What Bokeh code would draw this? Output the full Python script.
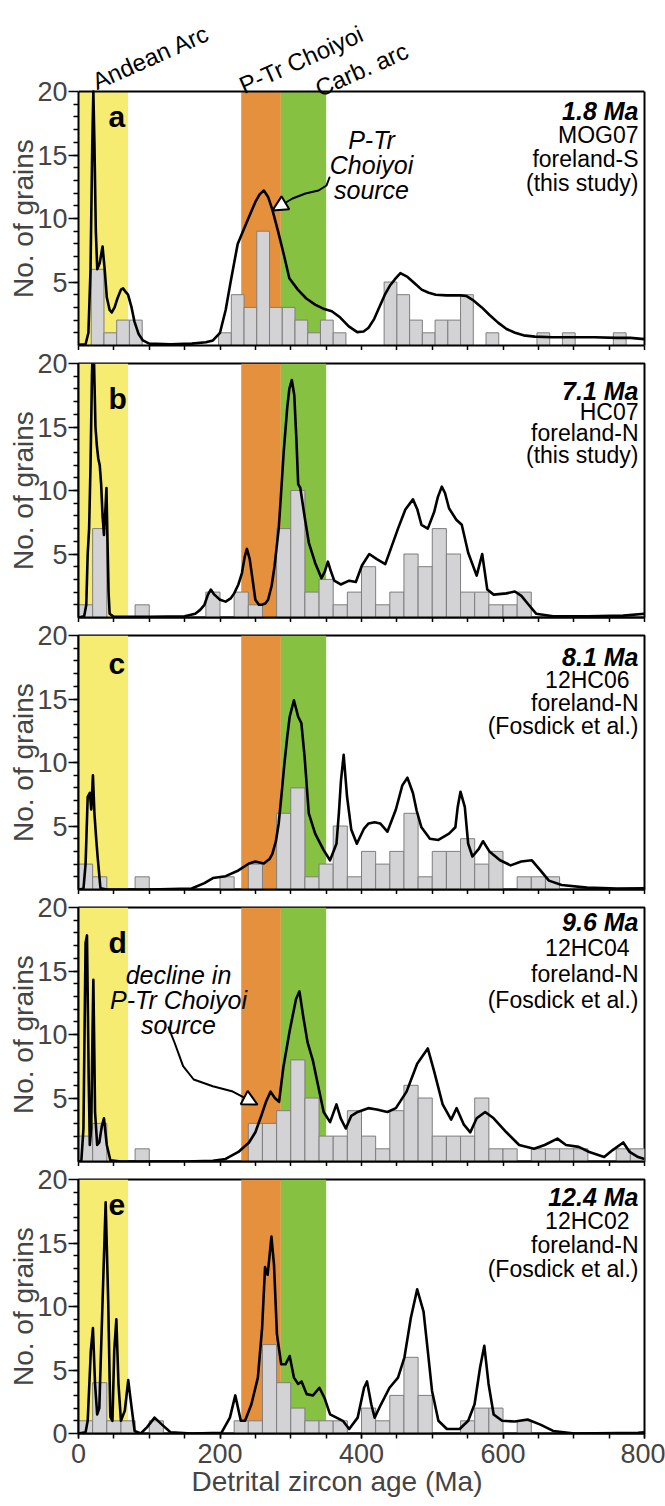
from bokeh.plotting import figure
from bokeh.layouts import column
from bokeh.models import (Range1d, FixedTicker, BoxAnnotation, Label, Arrow, NormalHead,
                          Title, LinearAxis, Span)
from bokeh.embed import file_html
from bokeh.resources import INLINE

# ---------------------------------------------------------------- data
# Source age bands (Ma)
BAND_NAMES = ["Andean Arc", "P-Tr Choiyoi", "Carb. arc"]
BAND_START = [0, 230, 286]
BAND_END = [70, 286, 350]
BAND_COLORS = ["#F6EC72", "#E5903C", "#86C142"]

# Histograms: left edge of each bin (Ma) and grain counts
A_BIN_WIDTH = 18
A_BIN_LEFT = [18, 36, 54, 72, 198, 216, 234, 252, 270, 288, 306, 324, 342, 360,
              432, 450, 468, 486, 504, 522, 540, 576, 648, 684, 756]
A_COUNTS = [6, 1, 2, 2, 1, 4, 3, 9, 3, 3, 2, 1, 2, 1,
            5, 4, 2, 1, 2, 2, 4, 1, 1, 1, 1]

B_BIN_WIDTH = 20
B_BIN_LEFT = [0, 20, 80, 180, 220, 240, 280, 300, 320, 340, 360, 380, 400, 420,
              440, 460, 480, 500, 520, 540, 560, 580, 600, 620]
B_COUNTS = [1, 7, 1, 2, 2, 1, 7, 10, 2, 3, 1, 2, 4, 1,
            2, 5, 4, 7, 5, 2, 2, 1, 1, 2]

C_BIN_WIDTH = 20
C_BIN_LEFT = [0, 20, 80, 200, 240, 280, 300, 320, 340, 360, 380, 400, 420, 440,
              460, 480, 500, 520, 540, 560, 580, 620, 640, 660]
C_COUNTS = [2, 1, 1, 1, 2, 6, 8, 1, 2, 5, 1, 3, 2, 3,
            6, 1, 3, 3, 4, 2, 3, 1, 1, 1]

D_BIN_WIDTH = 20
D_BIN_LEFT = [0, 20, 80, 240, 260, 280, 300, 320, 340, 360, 380, 400, 420, 440,
              460, 480, 500, 520, 540, 560, 580, 600, 640, 660, 680, 700, 760, 780]
D_COUNTS = [2, 3, 1, 3, 3, 4, 8, 5, 2, 2, 4, 2, 1, 4,
            6, 5, 2, 2, 2, 5, 1, 1, 1, 1, 1, 1, 1, 1]

E_BIN_WIDTH = 20
E_BIN_LEFT = [0, 20, 40, 60, 100, 220, 240, 260, 280, 300, 320, 340, 360, 400,
              420, 440, 460, 480, 540, 560, 580, 620]
E_COUNTS = [1, 4, 1, 1, 1, 1, 1, 7, 4, 2, 1, 1, 1, 2,
            1, 3, 6, 3, 1, 2, 2, 1]

# Probability curves, as (age Ma, scaled grains)
A_CURVE = [(0, 0.05), (10, 0.1), (14, 1), (17, 6), (19.5, 16), (21, 20), (22.5, 16),
           (24.5, 9), (26.5, 6), (30, 6.5), (34, 7.8), (37, 6), (40, 3.8), (44, 2.8),
           (47, 2.6), (51, 3), (55, 3.7), (60, 4.4), (63, 4.5), (67, 4.2), (70, 4.0),
           (75, 3.0), (79, 1.9), (85, 0.9), (91, 0.4), (100, 0.15), (130, 0.1),
           (160, 0.15), (180, 0.25), (190, 0.4), (200, 1.0), (208, 2.8), (215, 5),
           (225, 8), (240, 10), (250, 11.3), (256, 11.9), (262, 12.2), (268, 11.7),
           (274, 10.7), (282, 9), (290, 7.2), (298, 5.3), (310, 4.4), (322, 3.7),
           (335, 3.2), (346, 2.9), (358, 2.7), (370, 2.2), (382, 1.5), (394, 1.05),
           (403, 1.1), (410, 1.4), (418, 2.1), (425, 3), (433, 4), (440, 4.7),
           (447, 5.2), (455, 5.7), (465, 5.4), (475, 4.9), (485, 4.4), (495, 4.15),
           (505, 4.0), (520, 3.95), (540, 3.95), (548, 3.9), (557, 3.6), (570, 3.0),
           (581, 2.4), (593, 1.8), (605, 1.3), (617, 1.0), (629, 0.8), (645, 0.7),
           (670, 0.65), (700, 0.65), (730, 0.65), (760, 0.6), (780, 0.6), (800, 0.5)]

B_CURVE = [(0, 0), (8, 0.1), (11, 1), (13, 5), (15, 7), (17, 12), (19, 19), (20, 21),
           (22, 20), (24, 15), (26, 13.5), (28, 12.5), (30, 12), (32, 10.5), (34, 8),
           (36, 6.5), (38, 8.5), (39.5, 10.2), (41, 6), (42.5, 2), (44, 0.3), (50, 0.05),
           (100, 0.05), (150, 0.1), (165, 0.3), (172, 0.6), (178, 1), (183, 1.8),
           (187, 2.2), (192, 1.8), (200, 1.4), (208, 1.25), (215, 1.5), (220, 1.9),
           (226, 2.6), (231, 3.5), (235, 4.8), (238, 5.4), (242, 4.6), (246, 3),
           (250, 1.4), (255, 1.0), (259, 1), (264, 1.1), (268, 1.4), (273, 2.5),
           (277, 4), (280, 5.5), (283, 7), (286, 9.5), (290, 13), (295, 16.5),
           (298, 18), (301.5, 18.7), (305, 17.5), (308, 14), (310.5, 10.5),
           (313.5, 10.2), (320, 7.8), (325.5, 5.9), (334.5, 4.3), (343.5, 3.1),
           (348, 3.6), (352.5, 4.4), (357, 3.6), (361.5, 2.9), (370.6, 2.6),
           (382.6, 2.9), (392, 2.8), (400.6, 4.1), (411, 5.0), (421.6, 4.6),
           (433.6, 4.2), (442, 5.5), (451.6, 7), (462, 8.5), (472.7, 9.3), (479, 8.5),
           (484.7, 7.3), (493.7, 7.0), (502.7, 8.3), (508, 9.5), (513.5, 10.3),
           (518, 9.8), (523.7, 8.6), (534, 7.7), (541.7, 7.3), (550.8, 5.1),
           (562.8, 3.3), (570.6, 5.0), (577.8, 2.2), (586.8, 1.8), (604.8, 1.9),
           (616.8, 2.05), (626, 1.7), (634.8, 1.1), (646.8, 0.3), (670.9, 0.1),
           (720, 0.1), (770, 0.15), (800, 0.3)]

C_CURVE = [(0, 0), (7, 0.05), (10, 2), (13, 7.3), (16, 7.6), (18, 6.3), (20.4, 9.0),
           (22.5, 6), (25, 4), (27, 2.6), (31, 0.1), (40, 0), (100, 0), (160, 0.08),
           (178, 0.5), (190, 0.9), (208, 1.05), (226, 1.5), (241, 2.05), (250, 2.2),
           (262, 2.05), (270, 2.4), (274, 2.8), (279, 3.8), (283, 5.2), (287, 7.5),
           (291, 9.9), (295, 12), (298.5, 13.6), (304.5, 14.9), (310.5, 13.6),
           (315, 13.1), (319.5, 10.5), (325.5, 6), (334.5, 4.4), (346.5, 3.1),
           (355.5, 2.3), (364.6, 3.6), (368, 6), (371, 8.6), (374.8, 10.6),
           (379.6, 7.3), (385.6, 4.7), (393.4, 3.6), (403.6, 4.8), (410, 5.2),
           (418.6, 5.3), (426.4, 5.2), (436.6, 4.55), (448.6, 6.3), (457.7, 8.2),
           (464.9, 8.8), (472.7, 7.6), (478, 6.2), (484.7, 4.9), (496.7, 4.0),
           (508.7, 3.9), (523.7, 4.4), (532.7, 4.9), (536, 6.5), (539.9, 7.7),
           (546, 6.5), (550.8, 3.6), (556.8, 2.6), (565.8, 3.2), (571.8, 3.8),
           (580.8, 3.0), (595.8, 2.3), (610.8, 1.9), (625.8, 2.2), (640.8, 2.3),
           (652.9, 1.5), (664.9, 0.7), (682.9, 0.35), (719, 0.15), (761, 0.08),
           (800, 0.1)]

D_CURVE = [(0, 0), (4, 0.05), (7, 2.6), (10, 17.2), (12, 17.8), (14.4, 6.6), (16, 1.3),
           (18, 2.6), (19.5, 9), (21, 14.3), (22.5, 8), (23.4, 3.9), (26.4, 1.3),
           (29.4, 1.5), (33, 2.8), (36, 3.4), (40, 1.3), (45, 0.1), (60, 0), (150, 0),
           (190, 0.05), (208, 0.2), (226, 0.75), (241, 1.5), (250, 2.3), (259, 3.7),
           (265, 4.7), (271.5, 5.5), (277.5, 5.0), (283.5, 4.7), (289.5, 7.4),
           (298.5, 10.3), (307.5, 12.8), (312.3, 13.4), (317.7, 11.4), (323.7, 9.4),
           (331.5, 7.9), (339.3, 5.8), (346.5, 3.9), (355.6, 3.1), (364.6, 4.5),
           (370.6, 3.4), (377.8, 2.6), (385.6, 3.6), (394.6, 3.9), (409.6, 4.2),
           (421.6, 4.1), (436.6, 3.9), (448.6, 4.2), (463.7, 5.5), (478.7, 7.7),
           (493.7, 8.9), (502.7, 7.1), (514.7, 4.5), (526.7, 3.3), (534.5, 4.2),
           (544.7, 2.9), (553.8, 2.3), (562.8, 3.4), (574.8, 3.9), (586.8, 3.4),
           (604.8, 2.3), (622.8, 1.3), (643.8, 1.0), (658.9, 1.3), (676.9, 1.8),
           (689, 1.3), (707, 1.15), (722, 0.75), (743, 0.35), (755, 0.9), (770, 1.5),
           (779, 0.75), (791, 0.35), (800, 0.2)]

E_CURVE = [(0, 0), (10, 0.1), (13, 1), (17.4, 6.5), (20.4, 8.3), (23.4, 3.9),
           (26.4, 1.5), (29.4, 2), (34, 10.4), (38.4, 18.2), (42, 10.4), (45, 1.3),
           (48, 1), (50.5, 6.5), (53.5, 9.0), (56.5, 3.9), (60, 1), (65.5, 1.8),
           (70.3, 4.2), (74.5, 2.3), (79.3, 0.2), (88, 0), (97, 0.5), (107.5, 1.25),
           (118, 0.7), (130, 0.1), (160, 0), (202, 0.05), (214, 1.25), (221.6, 3),
           (229.4, 1), (235.4, 1), (244.4, 2.3), (253.5, 4.4), (259.5, 8.3),
           (263.7, 13.1), (267.3, 12.5), (269.7, 13.8), (272.7, 15.5), (276.3, 13.3),
           (280.5, 7.8), (286.5, 5.45), (292.5, 5.45), (298.5, 6.1), (304.5, 4.4),
           (310.5, 3.9), (315.3, 4.1), (322.5, 3.1), (331.5, 3.0), (340.5, 3.6),
           (347.7, 2.8), (355.6, 1.5), (364.6, 1.25), (373.6, 1), (382.6, 0.35),
           (394.6, 1.25), (403.6, 3.6), (407.8, 4.1), (413.8, 2.3), (418.6, 1.25),
           (427.6, 2.3), (439.6, 3.6), (451.6, 4.4), (460.7, 6), (469.7, 9.1),
           (478.7, 11.35), (487.7, 9.6), (493.7, 6.5), (499.7, 3.35), (508.7, 1),
           (520.7, 0.35), (538.7, 0.35), (550.8, 1), (559.8, 2.3), (567.6, 5.2),
           (573.6, 6.9), (579.6, 3.9), (586.8, 1.5), (598.8, 1), (616.8, 0.95),
           (634.8, 1.1), (652.9, 0.7), (670.9, 0.2), (700.9, 0), (791, 0.05), (800, 0.1)]

X_TICKS = list(range(0, 801, 50))
X_LABELLED = [0, 200, 400, 600, 800]
Y_MINOR = list(range(1, 20))

# Panel captions: letter, depositional age, sample, setting, data source
PANEL_TEXT = [
    ("a", "1.8 Ma", "MOG07", "foreland-S", "(this study)"),
    ("b", "7.1 Ma", "HC07", "foreland-N", "(this study)"),
    ("c", "8.1 Ma", "12HC06", "foreland-N", "(Fosdick et al.)"),
    ("d", "9.6 Ma", "12HC04", "foreland-N", "(Fosdick et al.)"),
    ("e", "12.4 Ma", "12HC02", "foreland-N", "(Fosdick et al.)"),
]
HISTS = [
    (A_BIN_WIDTH, A_BIN_LEFT, A_COUNTS, A_CURVE),
    (B_BIN_WIDTH, B_BIN_LEFT, B_COUNTS, B_CURVE),
    (C_BIN_WIDTH, C_BIN_LEFT, C_COUNTS, C_CURVE),
    (D_BIN_WIDTH, D_BIN_LEFT, D_COUNTS, D_CURVE),
    (E_BIN_WIDTH, E_BIN_LEFT, E_COUNTS, E_CURVE),
]

# ---------------------------------------------------------------- layout
FONT = "Liberation Sans"
W = 665
LEFT, RIGHT = 78, 21
FRAME_W, FRAME_H = W - LEFT - RIGHT, 254
X_MAX, Y_MAX = 800, 20
PX_PER_MA = FRAME_W / X_MAX
PX_PER_N = FRAME_H / Y_MAX
HEAD_H = 91          # room above the top panel for the band names

# (top border, bottom border) of each stacked panel; the top panel's frame
# is stretched upwards by HEAD_H so the tilted band names can live inside it
BORDERS = [(0, 5), (13, 5), (13, 5), (13, 5), (13, 73)]
# caption placement: letter baseline and four right-hand lines, px below panel top
LETTER_OFF = [25, 35, 28, 35, 25]
LINE_OFFS = [[19, 43, 67, 91], [27, 48, 69, 91], [21, 44, 67, 90],
             [14, 40, 66, 92], [17, 41, 65, 89]]
SAMPLE_SHIFT = [0, 0, 9, 9, 9]
YLABEL_SIZE = 28
YLABEL_LEN = 159     # rendered length of "No. of grains" at YLABEL_SIZE


def age_at(px):
    """x pixel (page) -> age in Ma."""
    return (px - LEFT) / PX_PER_MA


def n_below_top(off):
    """pixels below the panel top -> y data value."""
    return Y_MAX - off / PX_PER_N


def txt(p, x, y, text, size="23px", style="normal", align="left",
        baseline="middle", angle=0):
    p.add_layout(Label(x=x, y=y, text=text, text_font=FONT, text_font_size=size,
                       text_font_style=style, text_align=align,
                       text_baseline=baseline, text_color="black",
                       angle=angle, angle_units="deg"))


def curved_arrow(p, top_pts, tip):
    xs = [age_at(px) for px, _ in top_pts]
    ys = [n_below_top(off) for _, off in top_pts]
    p.line(xs, ys, line_color="black", line_width=2, line_join="round",
           line_cap="round")
    p.add_layout(Arrow(end=NormalHead(size=15, fill_color="white",
                                      line_color="black", line_width=2),
                       x_start=xs[-1], y_start=ys[-1],
                       x_end=age_at(tip[0]), y_end=n_below_top(tip[1]),
                       line_color="black", line_width=2))


figs = []
for i, ((letter, age, sample, setting, ref), (bw, lefts, counts, curve)) in \
        enumerate(zip(PANEL_TEXT, HISTS)):
    top_b, bot_b = BORDERS[i]
    first = i == 0
    last = i == len(PANEL_TEXT) - 1
    frame_h = FRAME_H + (HEAD_H if first else 0)
    y_top = Y_MAX * frame_h / FRAME_H
    p = figure(width=W, height=top_b + frame_h + bot_b,
               x_range=Range1d(0, X_MAX), y_range=Range1d(0, y_top),
               output_backend="svg", toolbar_location=None,
               min_border_left=LEFT, min_border_right=RIGHT,
               min_border_top=top_b, min_border_bottom=bot_b)
    p.xgrid.visible = False
    p.ygrid.visible = False
    p.background_fill_color = "white"
    p.border_fill_color = "white"
    if first:
        # panel box drawn from axes + a span, since the frame reaches higher
        p.outline_line_color = None
        p.add_layout(Span(location=Y_MAX, dimension="width", line_color="black",
                          line_width=2))
        p.add_layout(LinearAxis(bounds=(0, Y_MAX), axis_line_width=2,
                                ticker=FixedTicker(ticks=[], minor_ticks=[]),
                                major_label_standoff=0), "right")
    else:
        p.outline_line_color = "black"
        p.outline_line_width = 2

    # source bands
    for s, e, c in zip(BAND_START, BAND_END, BAND_COLORS):
        p.add_layout(BoxAnnotation(left=s, right=e, bottom=0, top=Y_MAX,
                                   fill_color=c, fill_alpha=1.0,
                                   line_alpha=0, level="underlay"))

    # histogram
    p.quad(left=lefts, right=[l + bw for l in lefts], bottom=0, top=counts,
           fill_color="#D3D3D5", line_color="#7E7E7E", line_width=1)

    # probability curve
    p.line([a for a, _ in curve], [n for _, n in curve], line_color="black",
           line_width=2.6, line_join="round")

    # x axis: every 50 Ma ticked, labels only on the bottom panel
    xa = p.xaxis[0]
    xa.axis_line_width = 2
    xa.major_tick_line_width = 1.5
    xa.minor_tick_line_width = 1.5
    xa.major_tick_out = 5
    xa.major_tick_in = 0
    xa.minor_tick_out = 5
    xa.minor_tick_in = 0
    if last:
        xa.ticker = FixedTicker(ticks=X_LABELLED, minor_ticks=X_TICKS)
        xa.major_label_text_font = FONT
        xa.major_label_text_font_size = "27px"
        xa.major_label_standoff = 5
    else:
        xa.ticker = FixedTicker(ticks=[], minor_ticks=X_TICKS)
        xa.major_label_standoff = 0

    ya = p.yaxis[0]
    ya.ticker = FixedTicker(ticks=[0, 5, 10, 15, 20] if last else [5, 10, 15, 20],
                            minor_ticks=Y_MINOR)
    ya.bounds = (0, Y_MAX)
    ya.axis_line_width = 2
    ya.major_tick_line_width = 1.5
    ya.minor_tick_line_width = 1.5
    ya.major_tick_out = 10
    ya.major_tick_in = 0
    ya.minor_tick_out = 5
    ya.minor_tick_in = 0
    ya.major_label_text_font = FONT
    ya.major_label_text_font_size = "27px"
    ya.major_label_standoff = 1

    # y-axis title, centred on the 0-20 part of the frame
    p.add_layout(Title(text="No. of grains", align="left",
                       offset=(FRAME_H - YLABEL_LEN) / 2, standoff=-8,
                       text_font=FONT, text_font_size=f"{YLABEL_SIZE}px",
                       text_font_style="normal"), "left")

    # captions
    txt(p, age_at(108), n_below_top(LETTER_OFF[i]), letter, size="30px",
        style="bold", baseline="alphabetic")
    offs = LINE_OFFS[i]
    rx = age_at(638)
    txt(p, rx, n_below_top(offs[0]), age, size="25px", style="bold italic",
        align="right")
    txt(p, age_at(638 - SAMPLE_SHIFT[i]), n_below_top(offs[1]), sample, align="right")
    txt(p, rx, n_below_top(offs[2]), setting, align="right")
    txt(p, rx, n_below_top(offs[3]), ref, align="right")

    if last:
        p.add_layout(Title(text="Detrital zircon age (Ma)", align="left",
                           offset=191 - LEFT, standoff=0, vertical_align="top",
                           text_font=FONT, text_font_size="28px",
                           text_font_style="normal"), "below")

    figs.append(p)

# band names above the top panel, tilted (page px of each baseline start)
pa = figs[0]
for name, (px, py) in zip(BAND_NAMES, [(93, 82), (240, 86), (316, 89)]):
    txt(pa, age_at(px), n_below_top(py - HEAD_H), name, size="24px",
        baseline="alphabetic", angle=24)

# call-out in panel a
for line, off in zip(["P-Tr", "Choiyoi", "source"], [48, 73, 98]):
    txt(pa, age_at(371), n_below_top(off), line, size="25px", style="italic",
        align="center", baseline="alphabetic")
curved_arrow(pa, [(329, 86), (326, 94), (318, 99), (305, 102), (292, 107), (282, 113)],
             (272, 119))

# call-out in panel d
pd_ = figs[3]
for line, off in zip(["decline in", "P-Tr Choiyoi", "source"], [67, 92, 117]):
    txt(pd_, age_at(178), n_below_top(off), line, size="25px", style="italic",
        align="center", baseline="alphabetic")
curved_arrow(pd_, [(168, 120), (174, 135), (182.6, 158.7), (193.2, 172),
                   (212.3, 178.7), (231.4, 183.7), (244.2, 190.3)], (257, 197))

layout = column(*figs, spacing=0)
open("out.html", "w").write(file_html(layout, INLINE))
